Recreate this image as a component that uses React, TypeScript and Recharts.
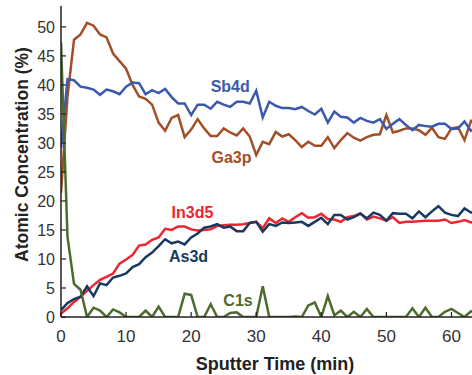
import { Line, LineChart, ReferenceDot, XAxis, YAxis } from "recharts";

const FONT = '"Liberation Sans", Arial, Helvetica, sans-serif';
const AXIS = "#231f20";
const TICK_TEXT = "#333333";

// sputter time, minutes
const minutes = [
  0, 1, 2, 3, 4, 5, 6, 7, 8, 9,
  10, 11, 12, 13, 14, 15, 16, 17, 18, 19,
  20, 21, 22, 23, 24, 25, 26, 27, 28, 29,
  30, 31, 32, 33, 34, 35, 36, 37, 38, 39,
  40, 41, 42, 43, 44, 45, 46, 47, 48, 49,
  50, 51, 52, 53, 54, 55, 56, 57, 58, 59,
  60, 61, 62, 63, 64,
];

const sb4d = [
  29.1, 41.0, 40.8, 39.7, 39.5, 39.2, 38.3, 39.2, 38.9, 38.4,
  39.7, 40.4, 40.3, 38.4, 39.1, 38.6, 39.3, 37.9, 36.8, 36.8,
  34.8, 36.6, 36.6, 35.9, 37.1, 36.6, 36.2, 37.1, 37.1, 36.8,
  39.0, 34.4, 37.1, 36.4, 36.0, 36.0, 35.8, 36.2, 35.5, 34.9,
  35.9, 33.5, 35.4, 34.5, 34.4, 33.5, 34.3, 33.8, 33.5, 34.1,
  32.4, 33.3, 34.1, 33.1, 32.2, 33.1, 32.9, 32.8, 33.3, 33.3,
  32.4, 32.5, 33.7, 32.1, 32.5,
];

const ga3p = [
  21.4, 38.0, 47.8, 48.7, 50.7, 50.2, 48.7, 48.2, 45.4, 44.1,
  42.8, 40.0, 38.0, 37.6, 36.6, 33.5, 32.1, 34.3, 34.8, 31.0,
  32.3, 34.1, 32.5, 31.2, 31.2, 32.5, 31.8, 31.3, 32.5, 31.1,
  27.9, 30.2, 29.8, 31.9, 31.1, 31.5, 30.5, 29.3, 30.2, 29.5,
  29.5, 31.0, 29.1, 30.5, 31.7, 30.9, 30.4, 31.0, 31.4, 31.5,
  34.8, 31.8, 32.1, 32.5, 32.5, 32.2, 31.4, 32.6, 31.0, 30.7,
  32.5, 32.7, 30.5, 33.8, 33.0,
];

const in3d5 = [
  0.6, 1.5, 2.6, 3.5, 4.5, 5.5, 6.4, 6.9, 7.5, 9.2,
  9.9, 10.7, 12.3, 12.5, 13.3, 13.7, 15.2, 15.0, 15.6, 15.6,
  15.1, 14.9, 15.0, 15.1, 15.7, 15.8, 15.9, 15.9, 16.0, 16.2,
  16.4, 15.3, 17.0, 16.2, 17.0, 16.4, 17.2, 17.9, 17.1, 17.2,
  17.8, 16.9, 16.8, 16.4, 17.2, 17.4, 17.9, 16.8, 17.3, 17.0,
  16.6, 17.2, 16.2, 16.4, 16.4, 16.5, 16.6, 16.6, 16.6, 16.8,
  16.2, 16.4, 16.7, 16.3, 16.5,
];

const as3d = [
  1.2, 2.4, 3.1, 3.5, 5.3, 3.6, 5.8, 5.5, 6.8, 7.1,
  7.5, 8.6, 9.1, 10.3, 11.1, 12.2, 13.4, 12.7, 13.0, 12.5,
  13.7, 14.4, 15.4, 15.6, 16.0, 15.4, 15.6, 14.8, 14.8, 16.2,
  16.4, 14.7, 16.0, 15.7, 16.3, 16.2, 16.3, 16.4, 15.7, 16.4,
  17.1, 16.0, 17.6, 17.6, 16.8, 17.2, 17.8, 17.0, 18.0, 17.6,
  16.6, 17.9, 17.8, 17.8, 17.0, 18.2, 17.2, 18.2, 19.1, 18.0,
  17.6, 17.4, 18.7, 18.0, 18.0,
];

const c1s = [
  47.3, 13.8, 5.7, 4.7, 0, 1.6, 1.1, 0, 1.3, 0.8,
  0, 0, 0, 1.1, 0, 1.8, 0, 0, 0, 4.0,
  3.8, 0, 0, 2.2, 0, 0, 0.7, 0.8, 0, 0,
  0, 5.3, 0, 0, 0, 0, 0.1, 0, 2.0, 2.5,
  0, 3.6, 0.3, 1.1, 0, 0.9, 0, 1.4, 0, 0,
  0, 0, 0, 0, 1.5, 0, 1.6, 0, 0, 0.9,
  1.4, 0.7, 0, 1.0, 0.5,
];

const xTicks = [0, 10, 20, 30, 40, 50, 60];
const yTicks = [0, 5, 10, 15, 20, 25, 30, 35, 40, 45, 50];

const COLORS = {
  sb4d: "#3c5aad",
  ga3p: "#a24f28",
  in3d5: "#ed2530",
  as3d: "#183a60",
  c1s: "#4e6b2e",
};

// where each series name sits, in data units
const tags = [
  { text: "Sb4d", t: 26, v: 39.7, color: COLORS.sb4d },
  { text: "Ga3p", t: 26.2, v: 27.6, color: COLORS.ga3p },
  { text: "In3d5", t: 20.2, v: 18.1, color: COLORS.in3d5 },
  { text: "As3d", t: 19.6, v: 10.5, color: COLORS.as3d },
  { text: "C1s", t: 27.2, v: 2.9, color: COLORS.c1s },
];

const data = minutes.map((t, i) => ({
  t,
  sb4d: sb4d[i],
  ga3p: ga3p[i],
  in3d5: in3d5[i],
  as3d: as3d[i],
  c1s: c1s[i],
}));

function BottomTick({ x, y, payload }: any) {
  return (
    <g>
      <line x1={x} x2={x} y1={y} y2={y - 5} stroke={AXIS} strokeWidth={1.2} />
      <text x={x} y={y + 24.7} textAnchor="middle" fontSize={17} fill={TICK_TEXT} fontFamily={FONT}>
        {payload.value}
      </text>
    </g>
  );
}

function TopTick({ x, y }: any) {
  return <line x1={x} x2={x} y1={y} y2={y + 5} stroke={AXIS} strokeWidth={1.2} />;
}

function LeftTick({ x, y, payload }: any) {
  return (
    <g>
      <line x1={x} x2={x + 5} y1={y} y2={y} stroke={AXIS} strokeWidth={1.2} />
      <text x={x - 6} y={y} dy="0.36em" textAnchor="end" fontSize={16} fill={TICK_TEXT} fontFamily={FONT}>
        {payload.value}
      </text>
    </g>
  );
}

function tagLabel(text: string, color: string) {
  return (props: any) => {
    const vb = props.viewBox || {};
    const cx = (vb.x ?? 0) + (vb.width ?? 0) / 2;
    const cy = (vb.y ?? 0) + (vb.height ?? 0) / 2;
    return (
      <text x={cx} y={cy} dy="0.36em" textAnchor="middle" fontSize={16} fontWeight="bold" fill={color} fontFamily={FONT}>
        {text}
      </text>
    );
  };
}

export default function App() {
  return (
    <div style={{ position: "absolute", left: 0, top: 0, width: 472, height: 375, overflow: "hidden", background: "#fff" }}>
      <LineChart width={484} height={375} data={data} margin={{ top: 6, right: 0, bottom: 0, left: 0 }}>
        <XAxis
          dataKey="t"
          type="number"
          domain={[0, 65]}
          ticks={xTicks}
          allowDataOverflow
          height={58}
          tickSize={0}
          tickMargin={0}
          tick={<BottomTick />}
          axisLine={{ stroke: AXIS, strokeWidth: 1.5 }}
          label={{
            content: (p: any) => {
              const vb = p.viewBox || {};
              return (
                <text x={vb.x + 214} y={vb.y + 52.5} textAnchor="middle" fontSize={18} fontWeight="bold" fill="#222" fontFamily={FONT}>
                  Sputter Time (min)
                </text>
              );
            },
          }}
        />
        <XAxis
          xAxisId="top"
          orientation="top"
          dataKey="t"
          type="number"
          domain={[0, 65]}
          ticks={xTicks}
          allowDataOverflow
          height={0}
          tickSize={0}
          tickMargin={0}
          tick={<TopTick />}
          axisLine={{ stroke: AXIS, strokeWidth: 1.5 }}
        />
        <YAxis
          type="number"
          domain={[0, 53.6]}
          ticks={yTicks}
          allowDataOverflow
          width={61}
          tickSize={0}
          tickMargin={0}
          tick={<LeftTick />}
          axisLine={{ stroke: AXIS, strokeWidth: 1.5 }}
          label={{
            content: (p: any) => {
              const vb = p.viewBox || {};
              const cx = vb.x + 22;
              const cy = vb.y + vb.height / 2 - 7;
              return (
                <text
                  x={cx}
                  y={cy}
                  dy="0.36em"
                  transform={`rotate(-90 ${cx} ${cy})`}
                  textAnchor="middle"
                  fontSize={17.5}
                  fontWeight="bold"
                  fill="#222"
                  fontFamily={FONT}
                >
                  Atomic Concentration (%)
                </text>
              );
            },
          }}
        />
        <Line dataKey="ga3p" stroke={COLORS.ga3p} strokeWidth={2.5} dot={false} isAnimationActive={false} />
        <Line dataKey="sb4d" stroke={COLORS.sb4d} strokeWidth={2.5} dot={false} isAnimationActive={false} />
        <Line dataKey="in3d5" stroke={COLORS.in3d5} strokeWidth={2.5} dot={false} isAnimationActive={false} />
        <Line dataKey="as3d" stroke={COLORS.as3d} strokeWidth={2.5} dot={false} isAnimationActive={false} />
        <Line dataKey="c1s" stroke={COLORS.c1s} strokeWidth={2.5} dot={false} isAnimationActive={false} />
        {tags.map((tag) => (
          <ReferenceDot
            key={tag.text}
            x={tag.t}
            y={tag.v}
            r={1}
            fill="none"
            stroke="none"
            label={tagLabel(tag.text, tag.color)}
          />
        ))}
      </LineChart>
    </div>
  );
}
